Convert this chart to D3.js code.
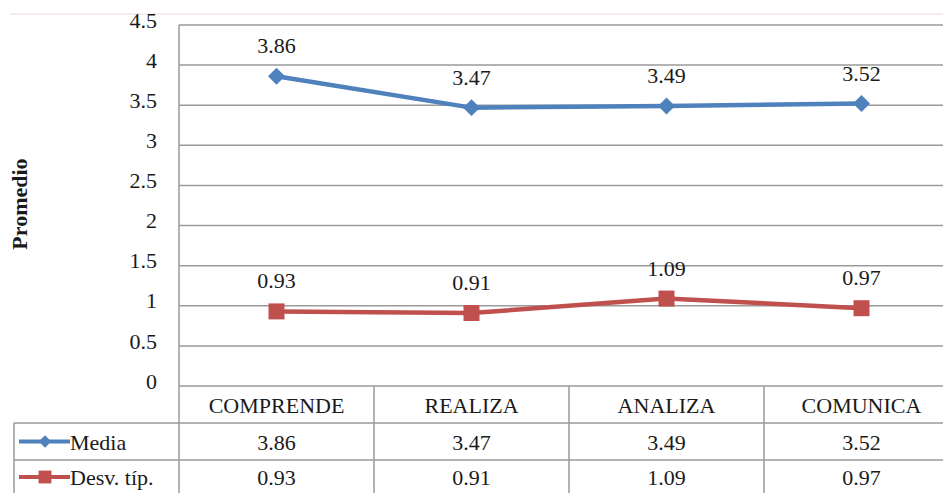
<!DOCTYPE html>
<html>
<head>
<meta charset="utf-8">
<script src="https://cdn.jsdelivr.net/npm/d3@7"></script>
<style>
  body { margin: 0; background: #fff; }
  svg text { font-family: Tinos, "Liberation Serif", "Times New Roman", Times, "Nimbus Roman", "Nimbus Roman No9 L", FreeSerif, "Noto Serif", "DejaVu Serif", serif; }
</style>
</head>
<body>
<svg id="chart" width="943" height="493"></svg>
<script>
"use strict";

// chart data
var categories = ["COMPRENDE", "REALIZA", "ANALIZA", "COMUNICA"];
var mediaValues = [3.86, 3.47, 3.49, 3.52];
var desvValues = [0.93, 0.91, 1.09, 0.97];
var seriesNames = ["Media", "Desv. típ."];
var yTicks = [0, 0.5, 1, 1.5, 2, 2.5, 3, 3.5, 4, 4.5];

var svg = d3.select("#chart"),
    plotLeft = 179,
    colW = 195,
    plotTop = 25,
    plotBottom = 386,
    fontSize = "22px",
    textColor = "#1a1a1a",
    gridColor = "#9a9a9a";

var x = d3.scaleBand()
    .domain(categories)
    .range([plotLeft, plotLeft + colW * categories.length])
    .padding(0);

var y = d3.scaleLinear()
    .domain([0, 4.5])
    .range([plotBottom, plotTop]);

function cx(j) { return x(categories[j]) + x.bandwidth() / 2; }

// faint top border of the original figure
svg.append("line")
    .attr("x1", 10).attr("x2", 943).attr("y1", 14).attr("y2", 14)
    .attr("stroke", "#f3e6e6").attr("stroke-width", 1.5);

// gridlines
svg.append("g").selectAll("line")
    .data(yTicks)
    .enter().append("line")
    .attr("x1", plotLeft).attr("x2", 943)
    .attr("y1", function (d) { return y(d); })
    .attr("y2", function (d) { return y(d); })
    .attr("stroke", gridColor).attr("stroke-width", 1.5);

// y tick labels
svg.append("g").selectAll("text")
    .data(yTicks)
    .enter().append("text")
    .attr("x", 157)
    .attr("y", function (d) { return y(d); })
    .attr("dy", "0.12em")
    .attr("text-anchor", "end")
    .attr("fill", textColor)
    .style("font-size", fontSize)
    .text(function (d) { return d; });

// y axis title
svg.append("text")
    .attr("transform", "translate(27,204) rotate(-90)")
    .attr("text-anchor", "middle")
    .attr("fill", textColor)
    .style("font-size", "22px")
    .style("font-weight", "bold")
    .text("Promedio");

// data table
var rowTop = [plotBottom, 423, 460, 497];
var tbl = svg.append("g");

tbl.append("line")
    .attr("x1", plotLeft).attr("x2", plotLeft).attr("y1", plotTop).attr("y2", 493)
    .attr("stroke", gridColor).attr("stroke-width", 1.5);
tbl.append("line")
    .attr("x1", 14).attr("x2", 14).attr("y1", rowTop[1]).attr("y2", 493)
    .attr("stroke", gridColor).attr("stroke-width", 1.5);
tbl.selectAll("line.h")
    .data([rowTop[1], rowTop[2]])
    .enter().append("line").attr("class", "h")
    .attr("x1", 14).attr("x2", 943)
    .attr("y1", function (d) { return d; }).attr("y2", function (d) { return d; })
    .attr("stroke", gridColor).attr("stroke-width", 1.5);
tbl.selectAll("line.v")
    .data(categories.slice(1))
    .enter().append("line").attr("class", "v")
    .attr("x1", function (d) { return x(d); })
    .attr("x2", function (d) { return x(d); })
    .attr("y1", plotBottom).attr("y2", 493)
    .attr("stroke", gridColor).attr("stroke-width", 1.5);

tbl.selectAll("text.cat")
    .data(categories)
    .enter().append("text").attr("class", "cat")
    .attr("x", function (d, j) { return cx(j); })
    .attr("y", (rowTop[0] + rowTop[1]) / 2 + 8)
    .attr("text-anchor", "middle")
    .attr("fill", textColor)
    .style("font-size", fontSize)
    .text(function (d) { return d; });

var rows = [
    { name: seriesNames[0], values: mediaValues, color: "#4f81bd", shape: d3.symbolDiamond2, size: 184, legendSize: 100 },
    { name: seriesNames[1], values: desvValues, color: "#c0504d", shape: d3.symbolSquare, size: 256, legendSize: 165 }
];

rows.forEach(function (r, i) {
    var cy = (rowTop[i + 1] + rowTop[i + 2]) / 2;
    if (i === 1) { cy = 477; }
    tbl.selectAll("text.v" + i)
        .data(r.values)
        .enter().append("text").attr("class", "v" + i)
        .attr("x", function (d, j) { return cx(j); })
        .attr("y", cy + 8)
        .attr("text-anchor", "middle")
        .attr("fill", textColor)
        .style("font-size", fontSize)
        .text(function (d) { return d.toFixed(2); });

    // legend key
    tbl.append("line")
        .attr("x1", 19).attr("x2", 70).attr("y1", cy).attr("y2", cy)
        .attr("stroke", r.color).attr("stroke-width", 4);
    tbl.append("path")
        .attr("d", d3.symbol().type(r.shape).size(r.legendSize))
        .attr("transform", "translate(45," + cy + ")")
        .attr("fill", r.color);
    tbl.append("text")
        .attr("x", 70).attr("y", cy + 8)
        .attr("fill", textColor)
        .style("font-size", fontSize)
        .text(r.name);
});

// series lines, markers and labels
var line = d3.line()
    .x(function (d, j) { return cx(j); })
    .y(function (d) { return y(d); });

rows.forEach(function (r) {
    var g = svg.append("g");
    g.append("path")
        .datum(r.values)
        .attr("d", line)
        .attr("fill", "none")
        .attr("stroke", r.color)
        .attr("stroke-width", 4.5)
        .attr("stroke-linejoin", "round");
    g.selectAll("path.m")
        .data(r.values)
        .enter().append("path").attr("class", "m")
        .attr("d", d3.symbol().type(r.shape).size(r.size))
        .attr("transform", function (d, j) {
            return "translate(" + cx(j) + "," + y(d) + ")";
        })
        .attr("fill", r.color);
    g.selectAll("text")
        .data(r.values)
        .enter().append("text")
        .attr("x", function (d, j) { return cx(j); })
        .attr("y", function (d) { return y(d) - 23; })
        .attr("text-anchor", "middle")
        .attr("fill", textColor)
        .style("font-size", fontSize)
        .text(function (d) { return d.toFixed(2); });
});
</script>
</body>
</html>
